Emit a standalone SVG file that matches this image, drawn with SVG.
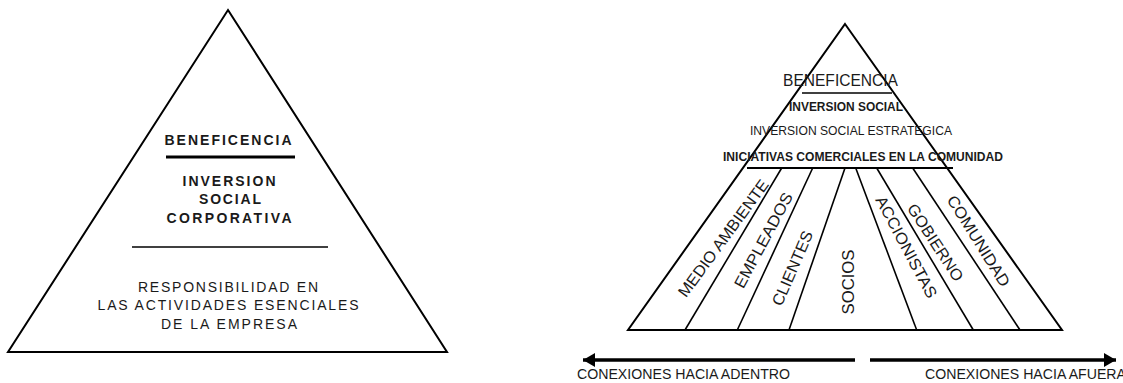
<svg xmlns="http://www.w3.org/2000/svg" width="1123" height="383" viewBox="0 0 1123 383">
<style>
.tri{fill:none;stroke:#000;stroke-width:2;stroke-linejoin:miter}
.ln{stroke:#000;stroke-width:1.6;fill:none}
.t{font-family:"Liberation Sans",Arial,sans-serif;fill:#1a1a1a;text-anchor:middle}
.b{font-weight:bold}
.l14{font-size:14px}
.r13{font-size:13px}
.rot{font-size:16px}
.arr{stroke:#000;stroke-width:3.5;fill:none}
</style>
<defs>
<marker id="ah" markerUnits="userSpaceOnUse" markerWidth="14" markerHeight="16" refX="12" refY="7" orient="auto">
<path d="M0,0 L12,7 L0,14 Z" fill="#000"/>
</marker>
</defs>
<rect width="1123" height="383" fill="#fff"/>

<g id="left-pyramid">
<polygon class="tri" points="228,10 447,352 8,352"/>
<line x1="166" y1="157" x2="295" y2="157" stroke="#000" stroke-width="3"/>
<line x1="132" y1="247" x2="328" y2="247" stroke="#000" stroke-width="1.5"/>
<text class="t b l14" x="228" y="145" font-size="14.5" textLength="127" lengthAdjust="spacing">BENEFICENCIA</text>
<text class="t b l14" x="229" y="186" font-size="14.5" textLength="93" lengthAdjust="spacing">INVERSION</text>
<text class="t b l14" x="230" y="204" font-size="14.5" textLength="62" lengthAdjust="spacing">SOCIAL</text>
<text class="t b l14" x="229" y="223" font-size="14.5" textLength="125" lengthAdjust="spacing">CORPORATIVA</text>
<text class="t l14" x="228" y="292" textLength="180" lengthAdjust="spacing">RESPONSIBILIDAD EN</text>
<text class="t l14" x="228" y="310" textLength="261" lengthAdjust="spacing">LAS ACTIVIDADES ESENCIALES</text>
<text class="t l14" x="229" y="329" textLength="136" lengthAdjust="spacing">DE LA EMPRESA</text>
</g>

<g id="right-pyramid">
<polygon class="tri" points="845,24 1062,330 628,330"/>
<line class="ln" x1="802" y1="93" x2="892" y2="93"/>
<line x1="747" y1="168" x2="953" y2="168" stroke="#000" stroke-width="2"/>
<text class="t" x="840.5" y="86" font-size="17" textLength="115" lengthAdjust="spacingAndGlyphs">BENEFICENCIA</text>
<text class="t b r13" x="846" y="111" textLength="114" lengthAdjust="spacingAndGlyphs">INVERSION SOCIAL</text>
<text class="t r13" x="851" y="135" textLength="202" lengthAdjust="spacingAndGlyphs">INVERSION SOCIAL ESTRATEGICA</text>
<text class="t b r13" x="863" y="161" textLength="280" lengthAdjust="spacingAndGlyphs">INICIATIVAS COMERCIALES EN LA COMUNIDAD</text>
</g>

<g id="sectors">
<line class="ln" x1="781.7" y1="168" x2="685" y2="330"/>
<line class="ln" x1="812.7" y1="168" x2="737.3" y2="330"/>
<line class="ln" x1="845" y1="168" x2="789" y2="330"/>
<line class="ln" x1="855.7" y1="168" x2="916.7" y2="330"/>
<line class="ln" x1="876.7" y1="168" x2="973.3" y2="330"/>
<line class="ln" x1="912.7" y1="168" x2="1020" y2="330"/>
</g>

<g id="stakeholders">
<text class="t rot" transform="translate(723,238) rotate(-53.7)" y="6" textLength="141" lengthAdjust="spacingAndGlyphs">MEDIO AMBIENTE</text>
<text class="t rot" transform="translate(763,240) rotate(-61.8)" y="6" textLength="106" lengthAdjust="spacingAndGlyphs">EMPLEADOS</text>
<text class="t rot" transform="translate(792,268) rotate(-66.6)" y="6" textLength="80" lengthAdjust="spacingAndGlyphs">CLIENTES</text>
<text class="t rot" transform="translate(847.7,282) rotate(-90)" y="6" textLength="65" lengthAdjust="spacingAndGlyphs">SOCIOS</text>
<text class="t rot" transform="translate(906.7,246.7) rotate(62)" y="6" textLength="113" lengthAdjust="spacingAndGlyphs">ACCIONISTAS</text>
<text class="t rot" transform="translate(935.7,242.3) rotate(57)" y="6" textLength="89" lengthAdjust="spacingAndGlyphs">GOBIERNO</text>
<text class="t rot" transform="translate(979,240.7) rotate(58)" y="6" textLength="104" lengthAdjust="spacingAndGlyphs">COMUNIDAD</text>
</g>

<g id="connectors">
<line class="arr" x1="855" y1="360" x2="583" y2="360" marker-end="url(#ah)"/>
<line class="arr" x1="870" y1="360" x2="1116" y2="360" marker-end="url(#ah)"/>
</g>

<g id="arrow-labels">
<text class="t l14" x="683.5" y="379" textLength="213" lengthAdjust="spacingAndGlyphs">CONEXIONES HACIA ADENTRO</text>
<text class="t l14" x="1025.5" y="379" textLength="201" lengthAdjust="spacingAndGlyphs">CONEXIONES HACIA AFUERA</text>
</g>
</svg>
